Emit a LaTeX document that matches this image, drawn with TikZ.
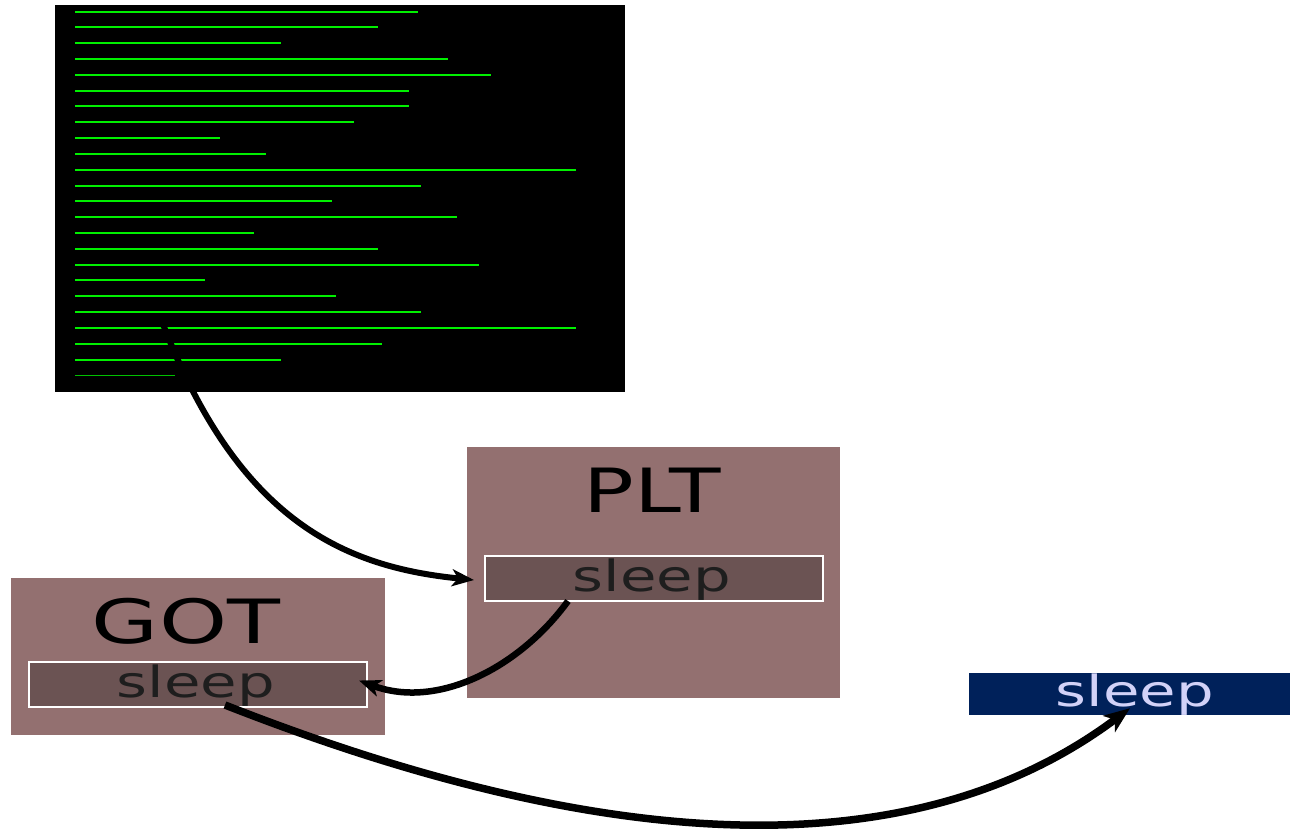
\documentclass[tikz,border=0pt]{standalone}
\usepackage{fontspec}
\setmainfont{DejaVu Sans}
\usetikzlibrary{arrows.meta}

\definecolor{boxbrown}{HTML}{937070}
\definecolor{slotbrown}{HTML}{6B5353}
\definecolor{slottext}{HTML}{1E1E1E}
\definecolor{navy}{HTML}{00215A}
\definecolor{lavender}{HTML}{D2D2F8}
\definecolor{termgreen}{HTML}{00F000}

\newcommand{\widetext}[2][1.38]{\scalebox{#1}[1]{#2}}

\tikzset{
  panel/.style={fill=boxbrown, draw=none, inner sep=0pt, minimum width=#1},
  slot/.style={fill=slotbrown, draw=white, line width=2pt, inner sep=0pt,
               minimum width=338pt, minimum height=45pt},
  title/.style={anchor=base, inner sep=0pt, text=black,
                font=\fontsize{61}{70}\selectfont},
  symname/.style={anchor=base, inner sep=0pt, text=slottext,
                  font=\fontsize{43}{50}\selectfont},
  termline/.style={termgreen, line width=2pt},
  jump/.style={black, line width=#1,
               -{Stealth[length=22pt, width=17pt, inset=6pt]}},
  bigjump/.style={black, line width=7.5pt,
                  -{Stealth[length=26pt, width=20pt, inset=7pt]}},
}

\begin{document}
\begin{tikzpicture}[x=1pt, y=-1pt]
  \useasboundingbox (0,0) rectangle (1290,828);

  % terminal window
  \node[fill=black, inner sep=0pt, minimum width=570pt, minimum height=387pt]
    (term) at (340,198.5) {};

  % procedure linkage table
  \node[panel=373pt, minimum height=251pt] (plt) at (653.5,572.5) {};
  \node[title] (pltlabel) at (652,512) {\widetext{PLT}};
  \node[slot] (pltslot) at (654,578.5) {};
  \node[symname] (pltsym) at (652,591) {\widetext{sleep}};

  % global offset table
  \node[panel=374pt, minimum height=157pt] (got) at (198,656.5) {};
  \node[title] (gotlabel) at (186,643) {\widetext[1.42]{GOT}};
  \node[slot] (gotslot) at (198,684.5) {};
  \node[symname] (gotsym) at (196,697) {\widetext{sleep}};

  % resolved function in the shared library
  \node[fill=navy, inner sep=0pt, minimum width=321pt, minimum height=42pt]
    (libc) at (1129.5,694) {};
  \node[symname, text=lavender] (libcsym) at (1135,706) {\widetext{sleep}};

  % disassembly lines on the terminal
  \foreach \y/\e in {11.7/418, 27.3/378, 43/281, 59/448, 74.7/491, 90.7/409,
                     106.3/409, 122.3/354, 138/220, 154/266, 169.7/576,
                     185.7/421, 201.3/332, 217/457, 233/254, 248.7/378,
                     264.7/479, 280.3/205, 296.3/336, 312/421, 328/576,
                     343.7/382, 359.7/281}
    \draw[termline] (75,\y) -- (\e,\y);
  \draw[termgreen!80!black, line width=1.3pt] (75,375.3) -- (175,375.3);

  % call site in the code jumps into the PLT stub
  \coordinate (callsite) at (161,319);
  \draw[jump=6pt] (callsite)
    .. controls (238,522) and (345,567) .. ([shift={(-10,1.5)}]pltslot.west);

  % PLT stub reads its GOT entry
  \draw[jump=6.5pt] ([shift={(-86,-1)}]pltslot.south)
    .. controls (520,667) and (438,710) .. ([shift={(-9,-4)}]gotslot.east);

  % GOT entry points at the real function
  \draw[bigjump] ([shift={(27,-3)}]gotslot.south)
    .. controls (640,868) and (930,858) .. ([shift={(0.5,-7)}]libc.south);
\end{tikzpicture}
\end{document}
